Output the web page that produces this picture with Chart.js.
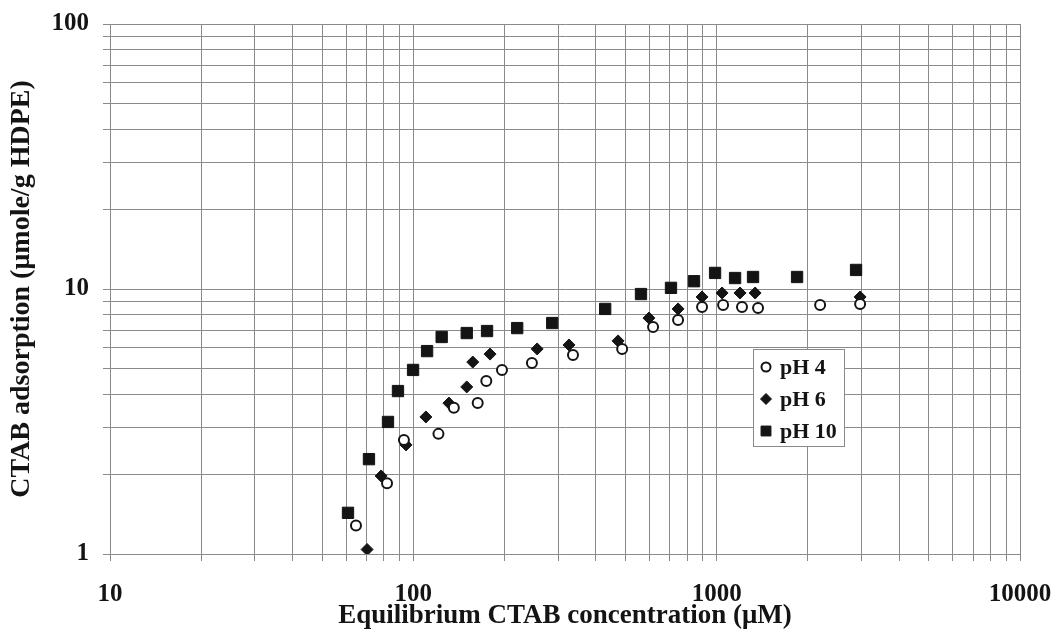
<!DOCTYPE html>
<html>
<head>
<meta charset="utf-8">
<script src="https://cdn.jsdelivr.net/npm/chart.js@4.4.1/dist/chart.umd.min.js"></script>
<style>
  html, body { margin: 0; padding: 0; background: #fff; }
  #wrap { width: 1057px; height: 635px; }
</style>
</head>
<body>
<div id="wrap"><canvas id="c" width="1057" height="635"></canvas></div>
<script>
// CTAB adsorption isotherms on HDPE at three pH values
// x: equilibrium CTAB concentration (µM), y: adsorption (µmole/g HDPE)
const ph4Conc = [64.7, 81.9, 93.1, 121, 136, 163, 174, 196, 246, 336, 488, 617, 746, 895, 1050, 1212, 1369, 2193, 2971];
const ph4Ads  = [1.28, 1.85, 2.69, 2.84, 3.56, 3.71, 4.50, 4.95, 5.26, 5.63, 5.94, 7.19, 7.64, 8.55, 8.70, 8.55, 8.48, 8.70, 8.78];

const ph6Conc = [70.4, 78.3, 94.6, 110, 131, 150, 157, 179, 256, 326, 473, 598, 746, 895, 1042, 1194, 1339, 2971];
const ph6Ads  = [1.04, 1.97, 2.58, 3.29, 3.71, 4.27, 5.30, 5.68, 5.94, 6.15, 6.37, 7.77, 8.41, 9.33, 9.66, 9.66, 9.66, 9.33];

const ph10Conc = [60.9, 71.4, 82.5, 89.0, 99.8, 111, 124, 150, 175, 220, 287, 429, 563, 707, 842, 988, 1150, 1318, 1841, 2881];
const ph10Ads  = [1.43, 2.28, 3.15, 4.12, 4.95, 5.83, 6.59, 6.82, 6.94, 7.12, 7.44, 8.41, 9.57, 10.1, 10.7, 11.5, 11.0, 11.1, 11.1, 11.8];

const seriesNames = ['pH 4', 'pH 6', 'pH 10'];

// labelled decades on each axis
const xTickLabels = [10, 100, 1000, 10000];
const yTickLabels = [1, 10, 100];

// 1..9 x 10^k grid values spanning the labelled decades
function logGrid(decades) {
  const out = [];
  for (let d = 0; d < decades.length - 1; d++) {
    for (let m = 1; m < 10; m++) out.push(decades[d] * m);
  }
  out.push(decades[decades.length - 1]);
  return out;
}

const pair = (xs, ys) => xs.map((x, i) => ({ x: x, y: ys[i] }));

const INK = '#141414';
const GRID = '#8a8a8a';
const SERIF = "'Liberation Serif', 'Times New Roman', serif";

// boxed key drawn inside the plot, right of centre
const keyBox = {
  id: 'keyBox',
  afterDatasetsDraw(chart, args, o) {
    const ctx = chart.ctx;
    ctx.save();
    ctx.fillStyle = '#fff';
    ctx.strokeStyle = o.border;
    ctx.lineWidth = 1;
    ctx.fillRect(o.left, o.top, o.width, o.height);
    ctx.strokeRect(o.left + 0.5, o.top + 0.5, o.width, o.height);
    chart.data.datasets.forEach((ds, i) => {
      const cy = o.top + o.firstRow + i * o.rowStep;
      ctx.fillStyle = ds.backgroundColor;
      ctx.strokeStyle = ds.borderColor;
      ctx.lineWidth = ds.borderWidth;
      Chart.helpers.drawPoint(ctx, {
        pointStyle: ds.pointStyle,
        radius: o.markerRadius[i],
        borderWidth: ds.borderWidth,
        rotation: 0
      }, o.left + o.markerX, cy);
      ctx.fillStyle = INK;
      ctx.font = 'bold ' + o.fontSize + 'px ' + SERIF;
      ctx.textAlign = 'left';
      ctx.textBaseline = 'middle';
      ctx.fillText(ds.label, o.left + o.textX, cy + 1);
    });
    ctx.restore();
  }
};

// the plot frame is fixed by layout padding alone, not by label overhang
function noScalePadding(s) {
  s.paddingLeft = 0; s.paddingRight = 0; s.paddingTop = 0; s.paddingBottom = 0;
}

const axisFont = { family: SERIF, size: 25, weight: 'bold' };

new Chart(document.getElementById('c'), {
  type: 'scatter',
  data: {
    datasets: [
      {
        label: seriesNames[0],
        data: pair(ph4Conc, ph4Ads),
        pointStyle: 'circle',
        radius: 5,
        borderWidth: 2,
        borderColor: INK,
        backgroundColor: '#ffffff'
      },
      {
        label: seriesNames[1],
        data: pair(ph6Conc, ph6Ads),
        pointStyle: 'rectRot',
        radius: 6,
        borderWidth: 1,
        borderColor: INK,
        backgroundColor: INK
      },
      {
        label: seriesNames[2],
        data: pair(ph10Conc, ph10Ads),
        pointStyle: 'rect',
        radius: 8,
        borderWidth: 1,
        borderColor: INK,
        backgroundColor: INK
      }
    ]
  },
  options: {
    responsive: false,
    animation: false,
    devicePixelRatio: 1,
    layout: { padding: { left: 0, top: 24, right: 37, bottom: 0 } },
    plugins: {
      legend: { display: false },
      tooltip: { enabled: false },
      keyBox: {
        left: 753, top: 349, width: 91, height: 97,
        border: '#8a8a8a',
        firstRow: 18, rowStep: 32,
        markerX: 13, textX: 27,
        markerRadius: [4.5, 5.5, 7],
        fontSize: 22
      }
    },
    scales: {
      x: {
        type: 'logarithmic',
        min: xTickLabels[0],
        max: xTickLabels[xTickLabels.length - 1],
        afterBuildTicks: s => { s.ticks = logGrid(xTickLabels).map(v => ({ value: v })); },
        afterFit: s => { s.height = 81; noScalePadding(s); },
        grid: { color: GRID, lineWidth: 1, tickLength: 7, drawTicks: true },
        border: { display: true, color: GRID },
        ticks: {
          autoSkip: false,
          maxRotation: 0,
          padding: 19,
          color: INK,
          font: axisFont,
          callback: v => xTickLabels.includes(v) ? String(v) : ''
        },
        title: {
          display: true,
          text: 'Equilibrium CTAB concentration (μM)',
          color: INK,
          font: { family: SERIF, size: 27, weight: 'bold' },
          padding: { top: 0, bottom: 3 }
        }
      },
      y: {
        type: 'logarithmic',
        min: yTickLabels[0],
        max: yTickLabels[yTickLabels.length - 1],
        afterBuildTicks: s => { s.ticks = logGrid(yTickLabels).map(v => ({ value: v })); },
        afterFit: s => { s.width = 110; noScalePadding(s); },
        grid: { color: GRID, lineWidth: 1, tickLength: 7, drawTicks: true },
        border: { display: true, color: GRID },
        ticks: {
          autoSkip: false,
          padding: 14,
          color: INK,
          font: axisFont,
          callback: v => yTickLabels.includes(v) ? String(v) : ''
        },
        title: {
          display: true,
          text: 'CTAB adsorption (μmole/g HDPE)',
          color: INK,
          font: { family: SERIF, size: 28, weight: 'bold' },
          padding: { top: 5, bottom: 0 }
        }
      }
    }
  },
  plugins: [keyBox]
});
</script>
</body>
</html>
